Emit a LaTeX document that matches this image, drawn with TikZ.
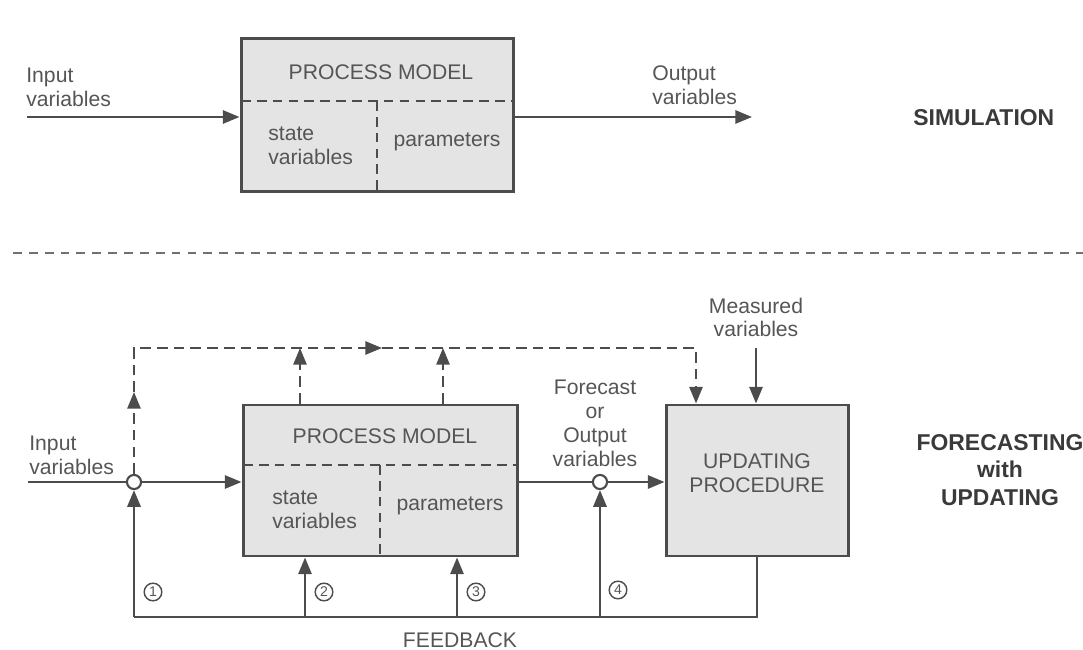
\documentclass[tikz,border=0pt]{standalone}
\usepackage{fontspec}
\setmainfont{Liberation Sans}
\usetikzlibrary{arrows.meta,fit}
\definecolor{linecol}{HTML}{4C4C4C}
\definecolor{textcol}{HTML}{555555}
\definecolor{boldcol}{HTML}{3A3A3A}
\definecolor{boxfill}{HTML}{E4E4E4}
\begin{document}
\begin{tikzpicture}[x=0.5673pt,y=-0.5673pt,
  tip/.tip={Triangle[length=9.5pt,width=7.5pt]},
  box/.style={draw=linecol,fill=boxfill,line width=1.7pt,inner sep=0pt,
    text=textcol,align=center,font=\fontsize{12}{14}\selectfont},
  lab/.style={text=textcol,inner sep=0pt,font=\fontsize{12}{13.5}\selectfont},
  title/.style={text=boldcol,inner sep=0pt,align=center,
    font=\fontsize{13}{15.5}\selectfont\bfseries},
  conn/.style={draw=linecol,line width=1.4pt},
  arr/.style={conn,-tip},
  dline/.style={draw=linecol,line width=1.3pt,dash pattern=on 6pt off 3.5pt},
  darr/.style={dline,-tip},
  inner/.style={draw=linecol,line width=1.3pt,dash pattern=on 5.5pt off 3.5pt},
  jn/.style={circle,draw=linecol,line width=1.2pt,fill=white,minimum size=8pt,inner sep=0pt},
  num/.style={circle,draw=linecol,line width=0.8pt,minimum size=10pt,inner sep=0pt,
    text=textcol,font=\fontsize{8}{8}\selectfont}]
\useasboundingbox (0,0) rectangle (1083,650);

% ---------------- SIMULATION ----------------
\node[box,fit={(241,39) (513,192)}] (pm1) {};
\draw[inner] (241,101) -- (513,101);
\draw[inner] (377,101) -- (377,192);
\node[lab] (pm1t) at (381,72) {PROCESS MODEL};
\node[lab,align=left,anchor=west] (pm1s) at (268,145.5) {state\\variables};
\node[lab] (pm1p) at (447,142) {parameters};

\coordinate (in1) at (27,117);
\coordinate (out1) at (752,117);
\draw[arr] (in1) -- (in1 -| pm1.west);
\draw[arr] (out1 -| pm1.east) -- (out1);
\node[lab,align=left,anchor=west] (in1t) at (26,87.5) {Input\\variables};
\node[lab,align=left,anchor=west] (out1t) at (652,85.5) {Output\\variables};
\node[title,anchor=west] (sim) at (913,118) {SIMULATION};

% separator
\coordinate (sepL) at (13,253);
\coordinate (sepR) at (1083,253);
\draw[draw=linecol!80,line width=1.1pt,dash pattern=on 5pt off 4pt] (sepL) -- (sepR);

% ---------------- FORECASTING ----------------
\node[box,fit={(243,405) (517,556)}] (pm2) {};
\draw[inner] (243,465) -- (517,465);
\draw[inner] (380,465) -- (380,556);
\node[lab] (pm2t) at (385,436) {PROCESS MODEL};
\node[lab,align=left,anchor=west] (pm2s) at (272,509.5) {state\\variables};
\node[lab] (pm2p) at (450,506) {parameters};

\node[box,fit={(666,405) (848,556)}] (up) {UPDATING\\PROCEDURE};

\node[jn] (j1) at (134,482) {};
\node[jn] (j2) at (600,482) {};
\coordinate (in2) at (28,482);

\draw[conn] (in2) -- (j1);
\draw[arr] (j1) -- (j1 -| pm2.west);
\draw[conn] (j2 -| pm2.east) -- (j2);
\draw[arr] (j2) -- (j2 -| up.west);

\node[lab,align=left,anchor=west] (in2t) at (29,455.5) {Input\\variables};
\node[lab,align=center] (fct) at (595,423.5) {Forecast\\or\\Output\\variables};

% dashed paths
\coordinate (m1) at (134,392);
\coordinate (t0) at (134,348);
\coordinate (m2) at (382,348);
\coordinate (t1) at (696,348);
\coordinate (u2) at (300,348);
\coordinate (u3) at (443,348);
\draw[darr] (j1) -- (m1);
\draw[darr] (m1) -- (t0) -- (m2);
\draw[darr] (m2) -- (t1) -- (t1 |- up.north);
\draw[darr] (u2 |- pm2.north) -- (u2);
\draw[darr] (u3 |- pm2.north) -- (u3);

% measured
\coordinate (ms) at (756,348);
\draw[arr] (ms) -- (ms |- up.north);
\node[lab,align=center] (mst) at (756,317.5) {Measured\\variables};

% feedback
\coordinate (fbR) at (up.south |- 0,617);
\coordinate (fbL) at (134,617);
\coordinate (f2) at (305,617);
\coordinate (f3) at (457,617);
\coordinate (f4) at (600,617);
\draw[conn] (up.south) -- (fbR) -- (fbL);
\draw[arr] (fbL) -- (j1);
\draw[arr] (f2) -- (f2 |- pm2.south);
\draw[arr] (f3) -- (f3 |- pm2.south);
\draw[arr] (f4) -- (j2);

\node[num] (n1) at (153,592) {1};
\node[num] (n2) at (324,592) {2};
\node[num] (n3) at (476,592) {3};
\node[num] (n4) at (618,590) {4};

\node[lab] (fb) at (460,640) {FEEDBACK};
\node[title] (fcast) at (1000,470) {FORECASTING\\with\\UPDATING};
\end{tikzpicture}
\end{document}
